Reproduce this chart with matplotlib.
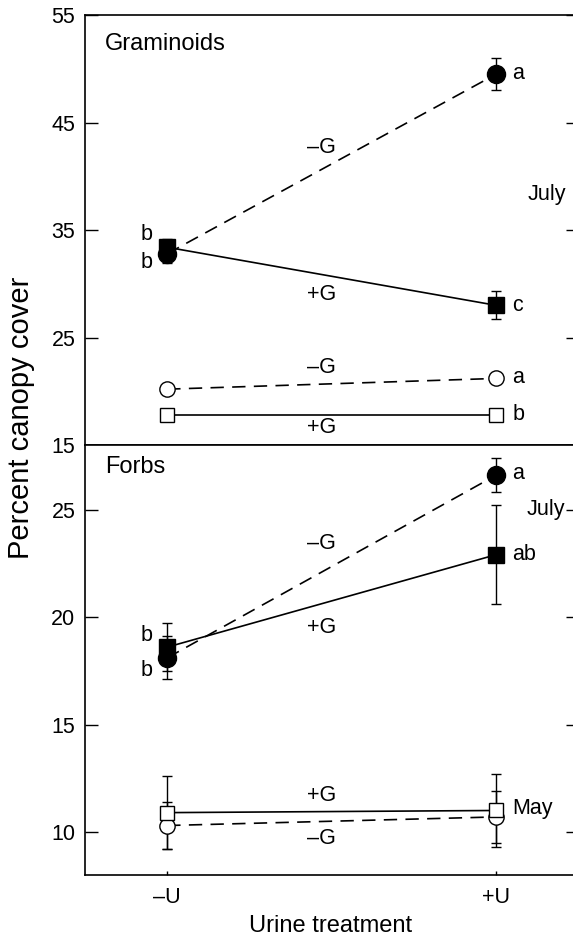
import matplotlib
matplotlib.use("Agg")
import matplotlib.pyplot as plt

plt.rcParams['font.family'] = ['Liberation Sans', 'DejaVu Sans']

x_labels = ["–U", "+U"]
xpos = [0, 1]

# Graminoids
gram_jul_minusG = [32.8, 49.5]
gram_jul_minusG_err = [0.9, 1.5]
gram_jul_plusG = [33.4, 28.0]
gram_jul_plusG_err = [0.8, 1.3]
gram_may_minusG = [20.2, 21.2]
gram_may_plusG = [17.8, 17.8]

# Forbs
forb_jul_minusG = [18.1, 26.6]
forb_jul_minusG_err = [1.0, 0.8]
forb_jul_plusG = [18.6, 22.9]
forb_jul_plusG_err = [1.1, 2.3]
forb_may_plusG = [10.9, 11.0]
forb_may_plusG_err = [1.7, 1.7]
forb_may_minusG = [10.3, 10.7]
forb_may_minusG_err = [1.1, 1.2]

fig = plt.figure(figsize=(5.73, 9.39), dpi=100)
ax1 = fig.add_axes([0.1483, 0.526, 0.861, 0.458])
ax2 = fig.add_axes([0.1483, 0.0682, 0.861, 0.4578])

DASH = (8, 5)
fs = 15.5
fst = 15.5

def series(ax, y, err, ls, marker, filled, ms):
    kw = dict(color='black', marker=marker, markersize=ms,
              markerfacecolor='black' if filled else 'white',
              markeredgecolor='black', markeredgewidth=1.0, lw=1.2)
    if ls == 'dash':
        kw['dashes'] = DASH
    if err is not None:
        ax.errorbar(xpos, y, yerr=err, ecolor='black', elinewidth=1.0,
                    capsize=3.5, capthick=1.0, **kw)
    else:
        ax.plot(xpos, y, **kw)

# Top panel
series(ax1, gram_may_minusG, None, 'dash', 'o', False, 11)
series(ax1, gram_may_plusG, None, 'solid', 's', False, 10)
series(ax1, gram_jul_plusG, gram_jul_plusG_err, 'solid', 's', True, 11)
series(ax1, gram_jul_minusG, gram_jul_minusG_err, 'dash', 'o', True, 13)

ax1.set_xlim(-0.25, 1.25)
ax1.set_ylim(15, 55)
ax1.set_yticks([15, 25, 35, 45, 55])
ax1.set_xticks([])
ax1.tick_params(axis='y', direction='in', length=9, width=1, right=True,
                labelsize=fst, pad=7)

ax1.text(-0.19, 52.3, "Graminoids", fontsize=17, ha='left', va='center')
ax1.text(1.155, 38.3, "July", fontsize=fs, ha='center', va='center')
ax1.text(0.47, 42.7, "–G", fontsize=fs, ha='center', va='center')
ax1.text(0.47, 29.0, "+G", fontsize=fs, ha='center', va='center')
ax1.text(0.47, 22.2, "–G", fontsize=fs, ha='center', va='center')
ax1.text(0.47, 16.6, "+G", fontsize=fs, ha='center', va='center')
ax1.text(-0.045, 34.6, "b", fontsize=fs, ha='right', va='center')
ax1.text(-0.045, 32.0, "b", fontsize=fs, ha='right', va='center')
ax1.text(1.05, 49.6, "a", fontsize=fs, ha='left', va='center')
ax1.text(1.05, 28.0, "c", fontsize=fs, ha='left', va='center')
ax1.text(1.05, 21.3, "a", fontsize=fs, ha='left', va='center')
ax1.text(1.05, 17.8, "b", fontsize=fs, ha='left', va='center')

# Bottom panel
series(ax2, forb_may_minusG, forb_may_minusG_err, 'dash', 'o', False, 11)
series(ax2, forb_may_plusG, forb_may_plusG_err, 'solid', 's', False, 10)
series(ax2, forb_jul_plusG, forb_jul_plusG_err, 'solid', 's', True, 11)
series(ax2, forb_jul_minusG, forb_jul_minusG_err, 'dash', 'o', True, 13)

ax2.set_xlim(-0.25, 1.25)
ax2.set_ylim(8, 28)
ax2.set_yticks([10, 15, 20, 25])
ax2.set_xticks(xpos)
ax2.set_xticklabels(x_labels)
ax2.tick_params(axis='y', direction='in', length=9, width=1, right=True,
                labelsize=fst, pad=7)
ax2.tick_params(axis='x', direction='in', length=3, width=1, labelsize=fst, pad=9)

ax2.text(-0.19, 27.0, "Forbs", fontsize=17, ha='left', va='center')
ax2.text(1.15, 25.0, "July", fontsize=fs, ha='center', va='center')
ax2.text(0.47, 23.4, "–G", fontsize=fs, ha='center', va='center')
ax2.text(0.47, 19.5, "+G", fontsize=fs, ha='center', va='center')
ax2.text(0.47, 11.7, "+G", fontsize=fs, ha='center', va='center')
ax2.text(0.47, 9.7, "–G", fontsize=fs, ha='center', va='center')
ax2.text(-0.045, 19.15, "b", fontsize=fs, ha='right', va='center')
ax2.text(-0.045, 17.5, "b", fontsize=fs, ha='right', va='center')
ax2.text(1.05, 26.7, "a", fontsize=fs, ha='left', va='center')
ax2.text(1.05, 22.9, "ab", fontsize=fs, ha='left', va='center')
ax2.text(1.05, 11.1, "May", fontsize=fs, ha='left', va='center')

fig.text(0.577, 0.0135, "Urine treatment", fontsize=17, ha='center', va='center')
fig.text(0.037, 0.555, "Percent canopy cover", rotation=90, fontsize=21,
         ha='center', va='center')

for ax in (ax1, ax2):
    for s in ax.spines.values():
        s.set_linewidth(1.2)

fig.savefig("out.png", dpi=100)
